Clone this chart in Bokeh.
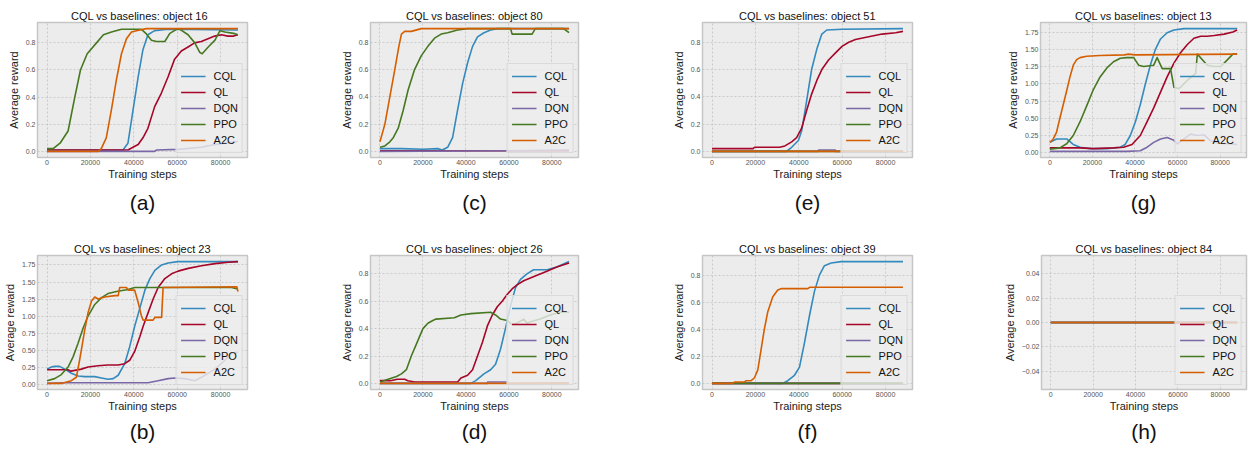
from bokeh.plotting import figure
from bokeh.layouts import row, column
from bokeh.models import Range1d, FixedTicker, PrintfTickFormatter, Title
from bokeh.embed import file_html
from bokeh.resources import INLINE

# ---------------- data ----------------
SERIES = ["CQL", "QL", "DQN", "PPO", "A2C"]
COLORS = ["#348ABD", "#A60628", "#7A68A6", "#467821", "#D55E00"]

XTICKS = [0, 20000, 40000, 60000, 80000]
YTICKS_09 = [0.0, 0.2, 0.4, 0.6, 0.8]
YTICKS_18 = [0.0, 0.25, 0.5, 0.75, 1.0, 1.25, 1.5, 1.75]
YTICKS_ZERO = [-0.04, -0.02, 0.0, 0.02, 0.04]
YTICK_LABELS_ZERO = ["\u22120.04", "\u22120.02", "0.00", "0.02", "0.04"]

# object 16  (a)
OBJ16_CQL = [(0, 0.01), (35000, 0.01), (37300, 0.06), (39600, 0.3), (42000, 0.55), (44200, 0.75),
             (46500, 0.86), (49600, 0.89), (55800, 0.9), (88000, 0.895)]
OBJ16_QL = [(0, 0.01), (37300, 0.01), (39600, 0.03), (42000, 0.05), (44200, 0.1), (46500, 0.17),
            (49600, 0.33), (52700, 0.43), (55800, 0.55), (58800, 0.68), (61900, 0.74), (65000, 0.77),
            (68000, 0.8), (71100, 0.81), (74200, 0.83), (77300, 0.85), (80300, 0.86), (83400, 0.85),
            (86000, 0.85), (88000, 0.86)]
OBJ16_DQN = [(0, 0.0), (49600, 0.0), (50500, 0.01), (60400, 0.015), (71100, 0.03), (77300, 0.05),
             (86500, 0.07), (88000, 0.075)]
OBJ16_PPO = [(0, 0.02), (2800, 0.02), (6000, 0.06), (9700, 0.15), (12800, 0.4), (15400, 0.6),
             (18500, 0.72), (22800, 0.8), (26000, 0.86), (29700, 0.88), (34300, 0.9), (43500, 0.9),
             (45800, 0.866), (48100, 0.82), (50400, 0.81), (54300, 0.81), (56600, 0.87), (59700, 0.9),
             (61300, 0.9), (65000, 0.86), (68100, 0.8), (70400, 0.73), (71500, 0.72), (74300, 0.77),
             (77400, 0.82), (79700, 0.89), (82000, 0.88), (86000, 0.87), (88000, 0.86)]
OBJ16_A2C = [(0, 0.0), (23500, 0.0), (25000, 0.02), (27300, 0.1), (29600, 0.3), (32000, 0.53),
             (34300, 0.72), (36600, 0.83), (38900, 0.88), (41200, 0.89), (45800, 0.905), (88000, 0.905)]

# object 80  (c)
OBJ80_CQL = [(0, 0.02), (10000, 0.02), (20000, 0.015), (26900, 0.02), (29000, 0.01), (31500, 0.03),
             (33800, 0.1), (36100, 0.3), (38500, 0.5), (40800, 0.65), (43100, 0.77), (45400, 0.84),
             (48400, 0.87), (51500, 0.89), (54600, 0.9), (88000, 0.9)]
OBJ80_QL = [(0, 0.005), (88000, 0.005)]
OBJ80_DQN = [(0, 0.0), (60000, 0.005), (88000, 0.01)]
OBJ80_PPO = [(0, 0.03), (2300, 0.04), (4600, 0.07), (6200, 0.1), (8500, 0.17), (10800, 0.3),
             (13100, 0.45), (16100, 0.6), (19200, 0.7), (22300, 0.77), (25400, 0.83), (28500, 0.86),
             (31500, 0.87), (36100, 0.89), (40800, 0.9), (60800, 0.9), (61500, 0.86), (70800, 0.86),
             (72300, 0.9), (85400, 0.9), (88000, 0.87)]
OBJ80_A2C = [(0, 0.07), (2300, 0.2), (4600, 0.4), (6900, 0.6), (8800, 0.77), (10000, 0.86),
             (11500, 0.88), (14600, 0.88), (19200, 0.9), (88000, 0.9)]

# object 51  (e)
OBJ51_CQL = [(0, 0.0), (34300, 0.0), (36700, 0.03), (39800, 0.08), (41300, 0.15), (42900, 0.3),
             (44400, 0.45), (45900, 0.6), (48300, 0.75), (50600, 0.86), (52900, 0.89), (60000, 0.895),
             (88000, 0.9)]
OBJ51_QL = [(0, 0.02), (18900, 0.02), (19600, 0.03), (31200, 0.03), (33600, 0.04), (36700, 0.07),
            (39000, 0.1), (41300, 0.17), (43600, 0.3), (45900, 0.42), (48300, 0.52), (50600, 0.6),
            (53700, 0.67), (56800, 0.72), (59900, 0.77), (63000, 0.8), (66100, 0.82), (72200, 0.84),
            (78400, 0.86), (84600, 0.87), (88000, 0.88)]
OBJ51_DQN = [(0, 0.0), (49000, 0.0), (49100, 0.01), (56800, 0.01), (56900, 0.0), (88000, 0.0)]
OBJ51_PPO = [(0, 0.0), (88000, 0.0)]
OBJ51_A2C = [(0, 0.0), (88000, 0.0)]

# object 13  (g)
OBJ13_CQL = [(0, 0.15), (3150, 0.2), (7900, 0.2), (11000, 0.12), (14200, 0.08), (18900, 0.06),
             (26800, 0.06), (33100, 0.08), (35400, 0.12), (37800, 0.25), (40200, 0.45), (42500, 0.7),
             (44900, 1.0), (47300, 1.28), (49600, 1.5), (52000, 1.65), (55100, 1.74), (58300, 1.78),
             (63000, 1.8), (88000, 1.8)]
OBJ13_QL = [(0, 0.07), (14200, 0.07), (20500, 0.06), (29900, 0.07), (34700, 0.08), (38600, 0.12),
            (42500, 0.25), (45700, 0.45), (48800, 0.65), (52000, 0.88), (55100, 1.1), (58300, 1.3),
            (61400, 1.45), (64600, 1.57), (67700, 1.66), (70900, 1.69), (74000, 1.69), (77200, 1.7),
            (81900, 1.72), (86000, 1.75), (88000, 1.78)]
OBJ13_DQN = [(0, 0.02), (36200, 0.02), (42500, 0.03), (45700, 0.08), (48800, 0.15), (52000, 0.2),
             (55100, 0.22), (58300, 0.18), (59900, 0.13), (63000, 0.2), (66100, 0.27), (69300, 0.25),
             (72500, 0.26), (75600, 0.17), (78800, 0.14), (83500, 0.13), (88000, 0.12)]
OBJ13_PPO = [(0, 0.05), (4700, 0.07), (7900, 0.13), (11000, 0.25), (14200, 0.45), (17300, 0.68),
             (20500, 0.92), (23600, 1.1), (26800, 1.23), (29900, 1.32), (33100, 1.37), (36200, 1.38),
             (39400, 1.38), (41700, 1.27), (44100, 1.25), (48800, 1.27), (50400, 1.38), (52800, 1.22),
             (56700, 1.22), (58300, 0.95), (60600, 0.93), (61400, 0.95), (64600, 1.05), (68500, 1.15),
             (69300, 1.43), (72500, 1.32), (74000, 1.27), (77200, 1.25), (80300, 1.25), (83500, 1.35),
             (86000, 1.43), (88000, 1.43)]
OBJ13_A2C = [(0, 0.15), (1600, 0.2), (3150, 0.3), (4700, 0.5), (6300, 0.7), (7900, 0.9), (9450, 1.1),
             (11000, 1.27), (12600, 1.35), (14200, 1.38), (17300, 1.4), (23600, 1.41), (35000, 1.42),
             (37000, 1.43), (40000, 1.42), (88000, 1.43)]

# object 23  (b)
OBJ23_CQL = [(0, 0.22), (2000, 0.25), (3500, 0.26), (5800, 0.26), (8150, 0.22), (11200, 0.16),
             (14300, 0.12), (17400, 0.11), (22000, 0.11), (25100, 0.09), (28100, 0.07), (30500, 0.08),
             (32800, 0.13), (35800, 0.3), (38100, 0.55), (40400, 0.85), (42800, 1.12), (45100, 1.38),
             (47400, 1.55), (49700, 1.67), (52800, 1.75), (55800, 1.78), (60400, 1.8), (88000, 1.8)]
OBJ23_QL = [(0, 0.21), (9700, 0.21), (11000, 0.19), (15800, 0.22), (18900, 0.25), (23500, 0.27),
            (28100, 0.28), (32800, 0.28), (35800, 0.3), (38100, 0.35), (40400, 0.48), (42800, 0.7),
            (44300, 0.85), (46600, 1.05), (48900, 1.25), (51200, 1.42), (54300, 1.55), (57400, 1.62),
            (60400, 1.66), (65100, 1.7), (71200, 1.74), (77400, 1.77), (83500, 1.79), (88000, 1.8)]
OBJ23_DQN = [(0, 0.01), (8150, 0.02), (46600, 0.02), (51200, 0.05), (55800, 0.08), (58900, 0.09),
             (63500, 0.08), (68100, 0.05), (71200, 0.1), (77400, 0.22), (82000, 0.35), (85000, 0.45),
             (88000, 0.47)]
OBJ23_PPO = [(0, 0.05), (3500, 0.08), (6600, 0.14), (9700, 0.25), (12000, 0.4), (14300, 0.6),
             (16600, 0.82), (18900, 1.0), (22000, 1.17), (25100, 1.27), (28100, 1.33), (32000, 1.36),
             (37400, 1.39), (40400, 1.42), (85000, 1.42), (87500, 1.4), (88000, 1.4)]
OBJ23_A2C = [(0, 0.01), (6600, 0.01), (11200, 0.05), (13500, 0.1), (15000, 0.35), (17400, 0.8),
             (18900, 1.05), (20500, 1.22), (22000, 1.28), (23500, 1.25), (26600, 1.28), (31200, 1.3),
             (32800, 1.3), (33500, 1.42), (36600, 1.42), (37400, 1.38), (40400, 1.38), (42000, 1.2),
             (43500, 1.0), (44300, 0.94), (48900, 0.94), (49700, 0.98), (52800, 0.98), (53500, 1.42),
             (87500, 1.43), (88000, 1.36)]

# object 26  (d)
OBJ26_CQL = [(0, 0.0), (42300, 0.0), (44600, 0.02), (48400, 0.07), (51500, 0.1), (53800, 0.14),
             (56100, 0.25), (58400, 0.4), (60800, 0.57), (63100, 0.7), (65400, 0.76), (68400, 0.8),
             (71500, 0.83), (77700, 0.83), (82300, 0.85), (88000, 0.89)]
OBJ26_QL = [(0, 0.02), (5000, 0.02), (8000, 0.03), (11500, 0.03), (13000, 0.02), (16200, 0.01),
            (36100, 0.01), (37700, 0.04), (40800, 0.06), (43100, 0.1), (45400, 0.2), (47700, 0.3),
            (50000, 0.42), (52300, 0.5), (54600, 0.56), (56900, 0.6), (59200, 0.65), (61500, 0.69),
            (63800, 0.72), (66900, 0.75), (70000, 0.77), (73100, 0.79), (77700, 0.82), (82300, 0.85),
            (88000, 0.88)]
OBJ26_DQN = [(0, 0.0), (50000, 0.0), (50100, 0.01), (59200, 0.01), (59300, 0.0), (88000, 0.005)]
OBJ26_PPO = [(0, 0.01), (3800, 0.03), (7700, 0.05), (10000, 0.07), (12300, 0.1), (14600, 0.2),
             (17300, 0.3), (20000, 0.4), (22300, 0.44), (24600, 0.46), (26100, 0.47), (34600, 0.48),
             (37700, 0.5), (42300, 0.51), (51500, 0.52), (53800, 0.5), (56100, 0.47), (59200, 0.46),
             (61500, 0.43), (63800, 0.44), (66900, 0.47), (68500, 0.44), (70000, 0.45), (74600, 0.47),
             (79200, 0.5), (83800, 0.52), (88000, 0.52)]
OBJ26_A2C = [(0, 0.0), (88000, 0.0)]

# object 39  (f)
OBJ39_CQL = [(0, 0.0), (32600, 0.0), (34900, 0.02), (38000, 0.06), (40300, 0.12), (42600, 0.3),
             (44900, 0.5), (47200, 0.68), (49500, 0.8), (51800, 0.87), (54900, 0.89), (59500, 0.9),
             (88000, 0.9)]
OBJ39_QL = [(0, 0.0), (88000, 0.0)]
OBJ39_DQN = [(0, 0.0), (88000, 0.0)]
OBJ39_PPO = [(0, 0.0), (88000, 0.0)]
OBJ39_A2C = [(0, 0.0), (9500, 0.0), (10300, 0.01), (14900, 0.01), (15700, 0.02), (18000, 0.02),
             (19500, 0.04), (21100, 0.1), (22600, 0.25), (24100, 0.4), (25700, 0.53), (28000, 0.64),
             (30300, 0.69), (31800, 0.7), (44100, 0.7), (45000, 0.71), (88000, 0.71)]

# object 84  (h)
OBJ84_CQL = [(0, 0.0), (88000, 0.0)]
OBJ84_QL = [(0, 0.0), (88000, 0.0)]
OBJ84_DQN = [(0, 0.0), (88000, 0.0)]
OBJ84_PPO = [(0, 0.0), (88000, 0.0)]
OBJ84_A2C = [(0, 0.0), (88000, 0.0)]

PANELS = [
    # title, sub-label, series, yticks, ylabels / format, column, row
    ("CQL vs baselines: object   16", "(a)", [OBJ16_CQL, OBJ16_QL, OBJ16_DQN, OBJ16_PPO, OBJ16_A2C], YTICKS_09, "%.1f", 0, 0),
    ("CQL vs baselines: object 80", "(c)", [OBJ80_CQL, OBJ80_QL, OBJ80_DQN, OBJ80_PPO, OBJ80_A2C], YTICKS_09, "%.1f", 1, 0),
    ("CQL vs baselines: object 51", "(e)", [OBJ51_CQL, OBJ51_QL, OBJ51_DQN, OBJ51_PPO, OBJ51_A2C], YTICKS_09, "%.1f", 2, 0),
    ("CQL vs baselines: object 13", "(g)", [OBJ13_CQL, OBJ13_QL, OBJ13_DQN, OBJ13_PPO, OBJ13_A2C], YTICKS_18, "%.2f", 3, 0),
    ("CQL vs baselines: object 23", "(b)", [OBJ23_CQL, OBJ23_QL, OBJ23_DQN, OBJ23_PPO, OBJ23_A2C], YTICKS_18, "%.2f", 0, 1),
    ("CQL vs baselines: object 26", "(d)", [OBJ26_CQL, OBJ26_QL, OBJ26_DQN, OBJ26_PPO, OBJ26_A2C], YTICKS_09, "%.1f", 1, 1),
    ("CQL vs baselines: object 39", "(f)", [OBJ39_CQL, OBJ39_QL, OBJ39_DQN, OBJ39_PPO, OBJ39_A2C], YTICKS_09, "%.1f", 2, 1),
    ("CQL vs baselines: object 84", "(h)", [OBJ84_CQL, OBJ84_QL, OBJ84_DQN, OBJ84_PPO, OBJ84_A2C], YTICKS_ZERO, YTICK_LABELS_ZERO, 3, 1),
]

# ---------------- layout / style ----------------
FONT = "Liberation Sans"
# (min_border_left, min_border_right, width) per column
COLS = [(37, 90, 337), (31, 90, 331), (34, 88, 332), (40, 3, 249)]
# (height, min_border_top, min_border_bottom, sub-label standoff) per row
ROWS = [(240, 22, 83, 12), (213, 13, 64, 6)]


def make_panel(title, sub, series, yticks, yfmt, ci, ri):
    bl, br, w = COLS[ci]
    h, bt, bb, sub_standoff = ROWS[ri]
    xs_all = [pt[0] for s in series for pt in s]
    ys_all = [pt[1] for s in series for pt in s]
    xlo, xhi = min(xs_all), max(xs_all)
    ylo, yhi = min(ys_all), max(ys_all)
    xpad = 0.05 * (xhi - xlo)
    if yhi == ylo:
        ylo_r, yhi_r = ylo - 0.055, yhi + 0.055
    else:
        ypad = 0.05 * (yhi - ylo)
        ylo_r, yhi_r = ylo - ypad, yhi + ypad

    p = figure(width=w, height=h, output_backend="svg", toolbar_location=None,
               x_range=Range1d(xlo - xpad, xhi + xpad), y_range=Range1d(ylo_r, yhi_r),
               min_border_left=bl, min_border_right=br, min_border_top=bt, min_border_bottom=bb,
               title=title)
    p.background_fill_color = "#ececec"
    p.border_fill_color = "white"
    p.outline_line_color = "#c6c6c6"
    p.outline_line_width = 1.5

    p.title.text_font = FONT
    p.title.text_font_size = "11px"
    p.title.text_font_style = "normal"
    p.title.text_color = "#111111"
    p.title.align = "center"
    p.title.standoff = 1

    for name, color, pts in zip(SERIES, COLORS, series):
        p.line([q[0] for q in pts], [q[1] for q in pts], line_color=color, line_width=1.6,
               line_join="round", legend_label=name)

    for ax in (p.xaxis[0], p.yaxis[0]):
        ax.axis_line_color = None
        ax.major_tick_line_color = None
        ax.minor_tick_line_color = None
        ax.major_tick_out = 0
        ax.major_tick_in = 0
        ax.minor_tick_out = 0
        ax.major_label_text_font = FONT
        ax.major_label_text_font_size = "7px"
        ax.major_label_text_color = "#555555"
        ax.major_label_standoff = 2
        ax.axis_label_text_font = FONT
        ax.axis_label_text_font_size = "11px"
        ax.axis_label_text_font_style = "normal"
        ax.axis_label_text_color = "#222222"

    p.xaxis.axis_label = "Training steps"
    p.xaxis.axis_label_standoff = 0
    p.xaxis.ticker = FixedTicker(ticks=XTICKS)
    p.xaxis.formatter = PrintfTickFormatter(format="%d")

    p.yaxis.axis_label = "Average reward"
    p.yaxis.axis_label_standoff = 3
    p.yaxis.ticker = FixedTicker(ticks=yticks)
    if isinstance(yfmt, list):
        p.yaxis.formatter = PrintfTickFormatter(format="%.2f")
        p.yaxis.major_label_overrides = {t: lab for t, lab in zip(yticks, yfmt)}
    else:
        p.yaxis.formatter = PrintfTickFormatter(format=yfmt)

    for g in (p.xgrid[0], p.ygrid[0]):
        g.grid_line_color = "#c2c2c2"
        g.grid_line_dash = "2 2"
        g.grid_line_width = 0.8

    lg = p.legend[0]
    lg.location = "bottom_right"
    lg.margin = 4
    lg.padding = 4
    lg.spacing = 0
    lg.glyph_width = 25
    lg.glyph_height = 16
    lg.label_height = 16
    lg.label_standoff = 8
    lg.label_text_font = FONT
    lg.label_text_font_size = "11px"
    lg.label_text_color = "#111111"
    lg.background_fill_color = "#eeeeee"
    lg.background_fill_alpha = 0.8
    lg.border_line_color = "#d4d4d4"
    lg.border_line_alpha = 0.8

    p.add_layout(Title(text=sub, align="center", text_font=FONT, text_font_size="21px",
                       text_font_style="normal", text_color="#111111", standoff=sub_standoff), "below")
    return p


figs = [[None] * 4 for _ in range(2)]
for title, sub, series, yticks, yfmt, ci, ri in PANELS:
    figs[ri][ci] = make_panel(title, sub, series, yticks, yfmt, ci, ri)

layout = column(row(*figs[0]), row(*figs[1]))
open("out.html", "w").write(file_html(layout, INLINE))
